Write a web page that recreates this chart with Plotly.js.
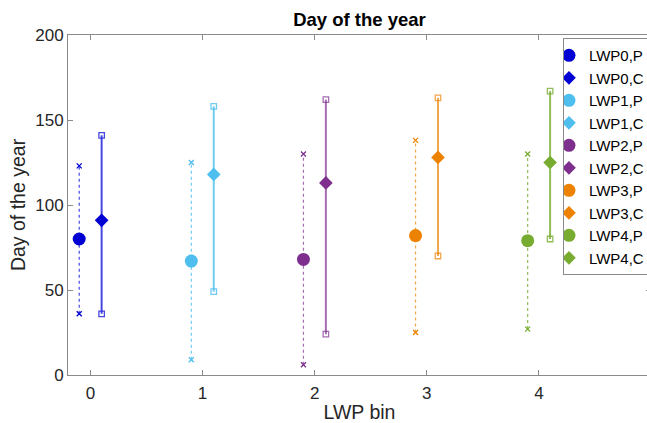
<!DOCTYPE html>
<html>
<head>
<meta charset="utf-8">
<script src="https://cdn.plot.ly/plotly-3.0.1.min.js"></script>
<style>
html,body{margin:0;padding:0;overflow:hidden;background:#fff;width:647px;height:423px;}
#chart{width:690px;height:423px;}
</style>
</head>
<body>
<div id="chart"></div>
<script>
var bins = [0, 1, 2, 3, 4];
var binLabels = ['LWP0', 'LWP1', 'LWP2', 'LWP3', 'LWP4'];
var pMed  = [80, 67, 68, 82, 79];
var pLow  = [36, 9, 6, 25, 27];
var pHigh = [123, 125, 130, 138, 130];
var cMed  = [91, 118, 113, 128, 125];
var cLow  = [36, 49, 24, 70, 80];
var cHigh = [141, 158, 162, 163, 167];
var colors = ['#0000D4', '#4DBEEE', '#7E2F8E', '#EC8200', '#77AC30'];
var lineColors = ['rgba(40,40,220,0.85)', 'rgba(77,190,238,0.8)', 'rgba(126,47,142,0.7)', 'rgba(236,130,0,0.7)', 'rgba(119,172,48,0.8)'];

var off = 0.1;
var rangeTraces = [];
var medTraces = [];
bins.forEach(function (b, i) {
  rangeTraces.push({
    x: [b - off, b - off], y: [pLow[i], pHigh[i]],
    mode: 'lines+markers', type: 'scatter', showlegend: false, hoverinfo: 'skip',
    line: {color: lineColors[i], width: 1.2, dash: 'dot'},
    marker: {symbol: 'x-thin-open', size: 5, color: colors[i], line: {color: colors[i], width: 1.3}}
  });
  rangeTraces.push({
    x: [b + off, b + off], y: [cLow[i], cHigh[i]],
    mode: 'lines+markers', type: 'scatter', showlegend: false, hoverinfo: 'skip',
    line: {color: lineColors[i], width: 2},
    marker: {symbol: 'square-open', size: 5.5, color: lineColors[i], line: {color: lineColors[i], width: 1.3}}
  });
  medTraces.push({
    x: [b - off], y: [pMed[i]], name: binLabels[i] + ',P',
    mode: 'markers', type: 'scatter', legendgroup: 'g' + (2 * i),
    marker: {symbol: 'circle', size: 13, color: colors[i]}
  });
  medTraces.push({
    x: [b + off], y: [cMed[i]], name: binLabels[i] + ',C',
    mode: 'markers', type: 'scatter', legendgroup: 'g' + (2 * i + 1),
    marker: {symbol: 'diamond', size: 10.5, color: colors[i]}
  });
});

var fam = 'Liberation Sans, Arial, sans-serif';
var axisCommon = {
  showgrid: false, zeroline: false, showline: true, linecolor: '#8a8a8a', linewidth: 1,
  mirror: 'ticks', ticks: 'inside', ticklen: 5, tickcolor: '#8a8a8a', tickwidth: 1,
  tickfont: {family: fam, size: 17, color: '#262626'}
};

var layout = {
  width: 690, height: 423,
  margin: {l: 68, r: 39, t: 35, b: 48},
  paper_bgcolor: '#fff', plot_bgcolor: '#fff',
  title: {text: '<b>Day of the year</b>', x: 0.5, xref: 'paper', y: 0.953, yanchor: 'middle',
          font: {family: fam, size: 18.5, color: '#000'}},
  xaxis: Object.assign({}, axisCommon, {
    range: [-0.2, 5], tickvals: bins, ticktext: bins.map(String), ticklabelstandoff: 3,
    title: {text: 'LWP bin', standoff: 2, font: {family: fam, size: 19.5, color: '#262626'}}
  }),
  yaxis: Object.assign({}, axisCommon, {
    range: [0, 200], tickvals: [0, 50, 100, 150, 200],
    title: {text: 'Day of the year', standoff: 4, font: {family: fam, size: 19.5, color: '#262626'}}
  }),
  legend: {
    x: 0.849, y: 0.991, xanchor: 'left', yanchor: 'top',
    bgcolor: '#fff', bordercolor: '#8a8a8a', borderwidth: 1,
    font: {family: fam, size: 15, color: '#000'},
    traceorder: 'grouped', tracegroupgap: 0, itemwidth: 30, indentation: -15
  },
  showlegend: true
};

Plotly.newPlot('chart', rangeTraces.concat(medTraces), layout, {displayModeBar: false, staticPlot: true});
</script>
</body>
</html>
